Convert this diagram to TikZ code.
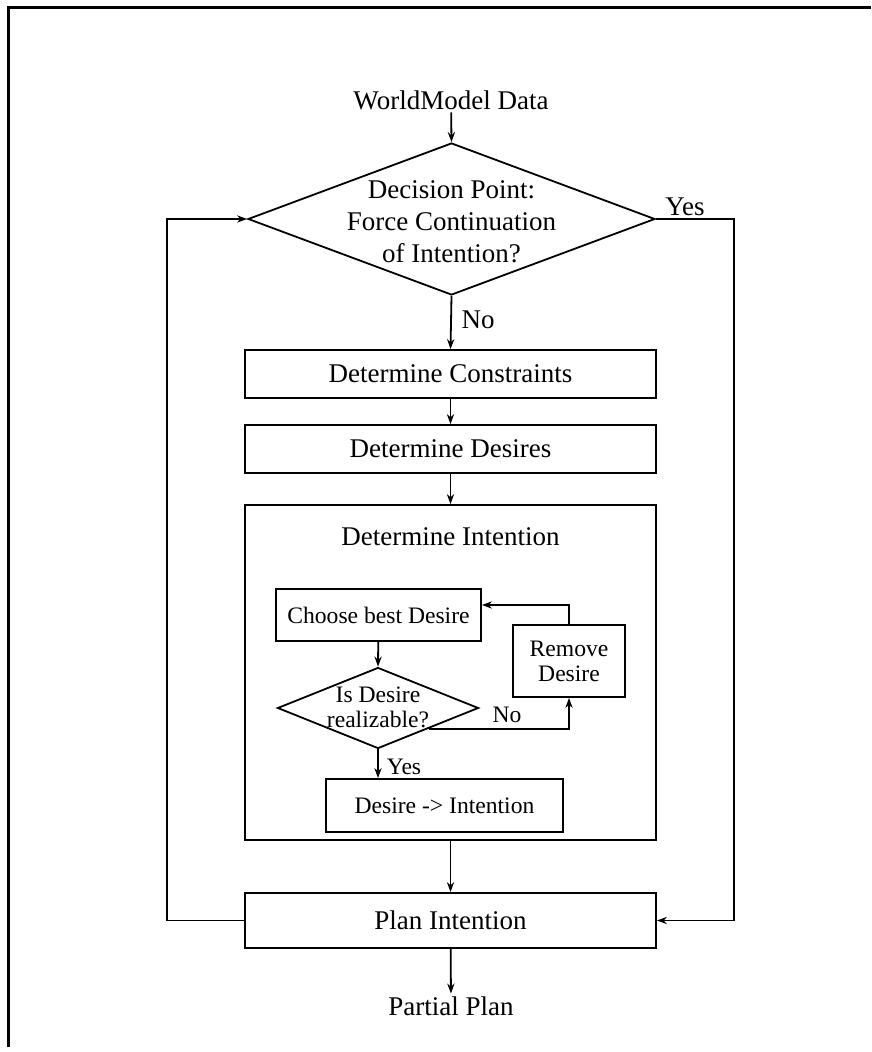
\documentclass[tikz,border=0pt]{standalone}
\usepackage{fontspec}
\setmainfont{Liberation Serif}
\usetikzlibrary{arrows.meta, positioning, shapes.geometric}

\begin{document}
\begin{tikzpicture}[x=0.5pt, y=-0.5pt, >={Stealth[length=5pt,width=3.6pt]},
  line width=0.9pt,
  bigfont/.style={font=\fontsize{13.5}{16}\selectfont},
  smallfont/.style={font=\fontsize{11.8}{12.5}\selectfont},
  mainbox/.style={draw, rectangle, minimum width=205.5pt, inner sep=0pt, bigfont},
  innerbox/.style={draw, rectangle, inner sep=0pt, smallfont},
  decision/.style={draw, diamond, inner sep=0pt},
  plain/.style={inner sep=1pt, align=center}]
  \useasboundingbox (0,0) rectangle (871,1052);
  % Frame (top and left edges only)
  \draw[line width=1.5pt] (8,1047) -- (8,8) -- (871,8);
  % Input
  \node[plain, bigfont] (wm) at (451,100) {WorldModel Data};
  % Top decision
  \node[decision, minimum width=203.5pt, minimum height=76pt] (dec) at (451.5,219) {};
  \node[plain, bigfont] (dectext) at (451.5,222) {Decision Point:\\Force Continuation\\of Intention?};
  \node[plain, bigfont] (yes) at (685,207) {Yes};
  \node[plain, bigfont] (no) at (478,320) {No};
  % Main steps
  \node[mainbox, minimum height=24pt] (constr) at (450.5,374) {Determine Constraints};
  \node[mainbox, minimum height=24pt] (desires) at (450.5,449) {Determine Desires};
  \node[mainbox, minimum height=167.5pt] (intent) at (450.5,672.5) {};
  \node[plain, bigfont, anchor=north] (intenttitle) at ([yshift=-10.5pt]intent.north) {Determine Intention};
  \node[mainbox, minimum height=27.5pt] (plan) at (450.5,920.5) {Plan Intention};
  \node[plain, bigfont] (partial) at (451,1006) {Partial Plan};
  % Inside Determine Intention
  \node[innerbox, minimum width=102.5pt, minimum height=26pt] (choose) at (378.5,615) {Choose best Desire};
  \node[innerbox, minimum width=56pt, minimum height=36pt, align=center] (remove) at (569,661) {Remove\\Desire};
  \node[decision, minimum width=100.5pt, minimum height=40.5pt] (real) at (378,708) {};
  \node[plain, smallfont] (realtext) at (378,707) {Is Desire\\realizable?};
  \node[innerbox, minimum width=118.5pt, minimum height=26.5pt] (desint) at (444.5,805.5) {Desire -> Intention};
  \node[plain, smallfont] (realno) at (507,715) {No};
  \node[plain, smallfont] (realyes) at (404,767) {Yes};
  % Connectors
  \draw[->] (wm) -- (dec.north);
  \draw[->] (dec.south) -- (constr.north);
  \draw[->] (constr) -- (desires);
  \draw[->] (desires) -- (intent.north);
  \draw[->] (intent.south) -- (plan.north);
  \draw[->] (plan) -- (partial);
  \draw[->] (plan.west) -- ++(-77,0) |- (dec.west);
  \draw[->] (dec.east) -- ++(78,0) |- (plan.east);
  \draw[->] (choose) -- (real.north);
  \draw[->] (real.south) -- (desint.north -| real.south);
  \draw[->] (real.south east) -| (remove.south);
  \draw[->] (remove.north) |- ([yshift=5pt]choose.east);
\end{tikzpicture}
\end{document}
